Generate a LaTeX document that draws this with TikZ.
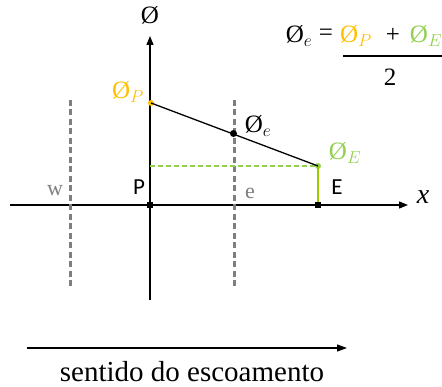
\documentclass[tikz,border=0pt]{standalone}
\usepackage{fontspec}
\setmainfont{Liberation Serif}
\newfontfamily\calib{Carlito}
\usetikzlibrary{arrows.meta}
\definecolor{phiorange}{HTML}{FFC000}
\definecolor{phigreen}{HTML}{92D050}
\definecolor{linegreen}{HTML}{99CC00}
\definecolor{gridgray}{HTML}{7F7F7F}
\tikzset{
  axisline/.style={line width=1.3pt, -{Triangle[length=9pt,width=7pt]}},
  gridline/.style={draw=gridgray, line width=3pt, dash pattern=on 6pt off 3.5pt},
  dot/.style={circle, inner sep=0pt, minimum size=6pt},
  sqdot/.style={rectangle, fill=black, inner sep=0pt, minimum size=6pt},
  lbl/.style={inner sep=0pt},
  philbl/.style={lbl, font=\fontsize{25}{30}\selectfont},
  callbl/.style={lbl, font=\calib\fontsize{23}{27}\selectfont},
  serlbl/.style={lbl, text=gridgray, font=\fontsize{22}{26}\selectfont}
}
\begin{document}
\begin{tikzpicture}[x=1pt,y=-1pt]
\useasboundingbox (0,0) rectangle (442,387);
% axes
\coordinate (xl) at (10,205);
\coordinate (xr) at (408,205);
\coordinate (yb) at (150,300);
\coordinate (yt) at (150,36);
\draw[axisline] (xl) -- (xr);
\draw[axisline] (yb) -- (yt);
\node[lbl, font=\itshape\fontsize{28}{32}\selectfont] (xlab) at (423,197) {x};
\node[philbl] (ylab) at (150,15) {Ø};
% grid lines
\coordinate (wt) at (70,100);
\coordinate (wb) at (70,290);
\coordinate (et) at (234,100);
\coordinate (eb) at (234,290);
\draw[gridline] (wt) -- (wb);
\draw[gridline] (et) -- (eb);
% points
\node[sqdot] (P) at (150,205) {};
\node[sqdot] (E) at (318,205) {};
\coordinate (gP) at (150,166);
\node[dot, fill=phiorange] (phiP) at (151,103) {};
\node[dot, fill=phigreen] (phiE) at (318,166) {};
\draw[phigreen, line width=1.1pt, dash pattern=on 5pt off 3pt] (gP) -- (phiE.center);
\draw[linegreen, line width=1.5pt] (phiE.center) -- (E.center);
\draw[line width=1.3pt] (phiP.center) -- (phiE.center);
\node[dot, fill=black, minimum size=7pt] (phie) at (233.5,133.5) {};
\node[sqdot] at (E) {};
% labels
\node[philbl, text=phiorange] (lphiP) at (128,92) {Ø$_P$};
\node[philbl] (lphie) at (258,126) {Ø$_e$};
\node[philbl, text=phigreen] (lphiE) at (345,153) {Ø$_E$};
\node[callbl] (lP) at (139,187) {P};
\node[callbl] (lE) at (337,187) {E};
\node[serlbl] (lw) at (55,191) {w};
\node[serlbl] (le) at (250,193) {e};
% formula
\node[philbl] (flhs) at (299,36) {Ø$_e$};
\node[philbl] (feq) at (326,35) {=};
\node[philbl, text=phiorange] (fP) at (356,36) {Ø$_P$};
\node[philbl] (fplus) at (393,35) {+};
\node[philbl, text=phigreen] (fE) at (426,36) {Ø$_E$};
\coordinate (bl) at (343,56);
\coordinate (br) at (442,56);
\draw[line width=1.2pt] (bl) -- (br);
\node[philbl] (fden) at (390,77) {2};
% flow direction
\coordinate (fs) at (27,348);
\coordinate (fe) at (347,348);
\draw[line width=1.2pt, -{Triangle[length=10pt,width=7pt]}] (fs) -- (fe);
\node[lbl, font=\fontsize{29}{33}\selectfont] (flow) at (192,372) {sentido do escoamento};
\end{tikzpicture}
\end{document}
